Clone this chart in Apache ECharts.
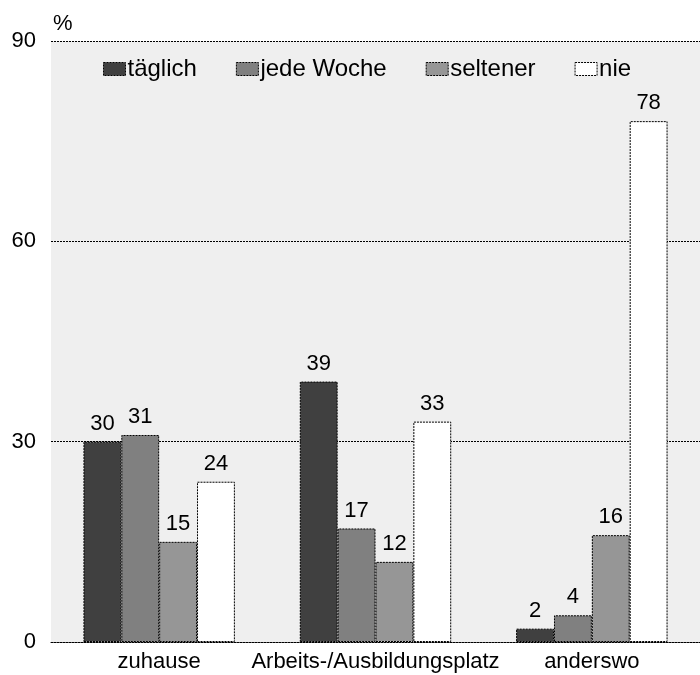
<!DOCTYPE html>
<html><head><meta charset="utf-8">
<script src="https://cdn.jsdelivr.net/npm/echarts@6/dist/echarts.min.js"></script>
<style>html,body{margin:0;padding:0;background:#fff}#c{width:700px;height:675px}</style>
</head><body><div id="c"></div>
<script>
const categories = ['zuhause', 'Arbeits-/Ausbildungsplatz', 'anderswo'];
const seriesNames = ['täglich', 'jede Woche', 'seltener', 'nie'];
const taeglich = [30, 39, 2];
const jedeWoche = [31, 17, 4];
const seltener = [15, 12, 16];
const nie = [24, 33, 78];
const yTicks = [0, 30, 60, 90];
const colors = ['#404040', '#808080', '#969696', '#ffffff'];
const values = [taeglich, jedeWoche, seltener, nie];

const chart = echarts.init(document.getElementById('c'));
const font = '"Liberation Sans", Arial, sans-serif';
const dots = [2, 1];
chart.setOption({
  animation: false,
  textStyle: { fontFamily: font },
  grid: { left: 51, top: 41, width: 655, height: 601, containLabel: false, show: true, backgroundColor: '#efefef', borderWidth: 0 },
  legend: {
    left: 103, top: 57, padding: 0, itemWidth: 22, itemHeight: 13, itemGap: 39, icon: 'rect',
    textStyle: { fontSize: 24, color: '#000', fontFamily: font, padding: [0, 0, 0, -3] },
    data: seriesNames.map(n => ({ name: n, itemStyle: { borderType: dots, borderColor: '#000', borderWidth: 1 } }))
  },
  xAxis: {
    type: 'category', data: categories,
    axisLine: { show: true, lineStyle: { color: '#000', type: dots, width: 1 } },
    axisTick: { show: false },
    axisLabel: { interval: 0, fontSize: 22, color: '#000', margin: 9, fontFamily: font }
  },
  yAxis: {
    type: 'value', min: 0, max: 90, interval: 30,
    name: '%', nameLocation: 'end', nameGap: 6,
    nameTextStyle: { fontSize: 22, color: '#000', align: 'left', padding: [0, 0, 0, 2], fontFamily: font },
    axisLine: { show: false }, axisTick: { show: false },
    axisLabel: { fontSize: 22, color: '#000', margin: 15, fontFamily: font, formatter: v => yTicks.includes(v) ? String(v) : '' },
    splitLine: { show: true, lineStyle: { color: '#000', type: dots, width: 1 } }
  },
  series: seriesNames.map((n, i) => ({
    name: n, type: 'bar', data: values[i],
    barGap: '0%', barCategoryGap: '30%',
    itemStyle: { color: colors[i], borderColor: '#000', borderWidth: 1, borderType: dots },
    label: { show: true, position: 'top', distance: 7, fontSize: 22, color: '#000', fontFamily: font }
  }))
});
</script></body></html>
